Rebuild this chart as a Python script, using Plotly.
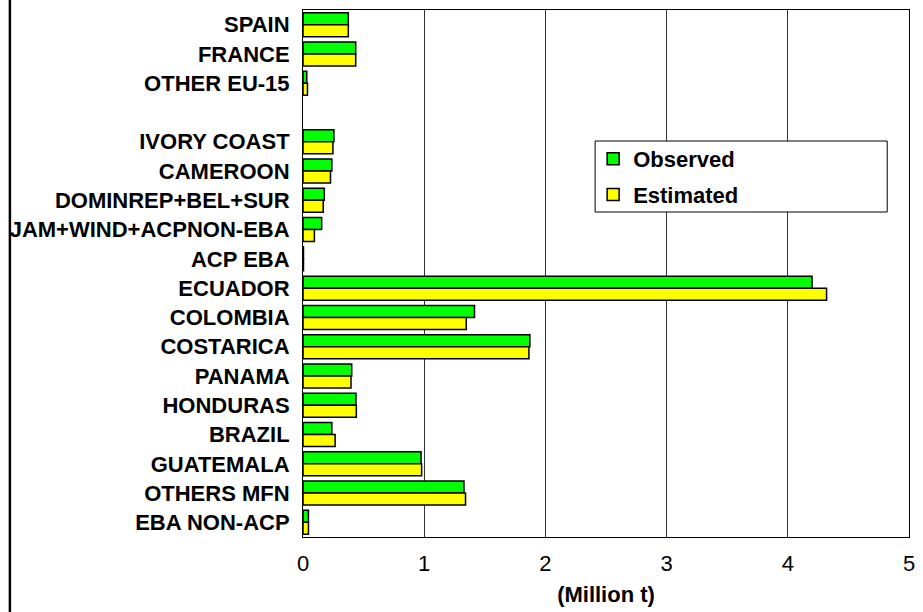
import plotly.graph_objects as go

categories = ["SPAIN", "FRANCE", "OTHER EU-15", " ", "IVORY COAST", "CAMEROON",
              "DOMINREP+BEL+SUR", "JAM+WIND+ACPNON-EBA", "ACP EBA", "ECUADOR",
              "COLOMBIA", "COSTARICA", "PANAMA", "HONDURAS", "BRAZIL",
              "GUATEMALA", "OTHERS MFN", "EBA NON-ACP"]
observed = [0.374, 0.435, 0.031, None, 0.255, 0.238, 0.176, 0.154, 0.004, 4.20,
            1.415, 1.872, 0.402, 0.437, 0.238, 0.974, 1.328, 0.045]
estimated = [0.374, 0.435, 0.037, None, 0.247, 0.227, 0.167, 0.094, 0.004, 4.32,
             1.347, 1.864, 0.396, 0.440, 0.265, 0.979, 1.341, 0.045]
x_ticks = [0, 1, 2, 3, 4, 5]

FONT = "Liberation Sans, Arial, sans-serif"
FS = 22

fig = go.Figure()
fig.add_trace(go.Bar(y=categories, x=observed, orientation="h", name="Observed",
                     legendgroup="obs",
                     marker=dict(color="#00FF00", line=dict(color="black", width=1.5))))
fig.add_trace(go.Bar(y=categories, x=estimated, orientation="h", name="Estimated",
                     legendgroup="est",
                     marker=dict(color="#FFFF00", line=dict(color="black", width=1.5))))

W, H = 923, 612
L, R, T, B = 303, 8, 10, 75
pw, ph = W - L - R, H - T - B

fig.update_layout(
    width=W, height=H,
    margin=dict(l=L, r=R, t=T, b=B, pad=0),
    paper_bgcolor="white", plot_bgcolor="white",
    barmode="group", bargap=0.18, bargroupgap=0.0,
    font=dict(family=FONT, size=FS, color="black"),
    showlegend=True,
    legend=dict(x=(596 - L) / pw, y=1 - (138 - T) / ph, xanchor="left", yanchor="top",
                bgcolor="rgba(0,0,0,0)", bordercolor="black", borderwidth=0,
                font=dict(family=FONT, size=FS, color="black", weight="bold"),
                itemwidth=30, tracegroupgap=4),
    xaxis=dict(range=[0, 5], tickvals=x_ticks, ticktext=[str(v) for v in x_ticks],
               showgrid=True, gridcolor="#333333", gridwidth=1,
               showline=True, linecolor="black", linewidth=1, mirror=True,
               ticks="", ticklabelstandoff=7, zeroline=False,
               tickfont=dict(family=FONT, size=FS, color="black"),
               title=dict(text="<b>(Million t)</b>", font=dict(family=FONT, size=FS, color="black"),
                          standoff=11)),
    yaxis=dict(type="category", autorange="reversed", categoryorder="array",
               categoryarray=categories,
               showgrid=False, showline=True, linecolor="black", linewidth=1, mirror=True,
               ticks="", ticklabelstandoff=8,
               tickfont=dict(family=FONT, size=FS, color="black", weight="bold")),
    shapes=[
        dict(type="rect", xref="paper", yref="paper",
             x0=(598 - L) / pw, x1=(893 - L) / pw,
             y0=1 - (212 - T) / ph, y1=1 - (141 - T) / ph,
             line=dict(color="black", width=1), fillcolor="white", layer="above"),
        dict(type="line", xref="paper", yref="paper",
             x0=(7 - L) / pw, x1=(7 - L) / pw, y0=-0.2, y1=1.1,
             line=dict(color="black", width=2.5)),
    ],
)

fig.write_html("out.html", config={"displayModeBar": False},
               post_script="document.body.style.margin='0';document.body.style.overflow='hidden';")
